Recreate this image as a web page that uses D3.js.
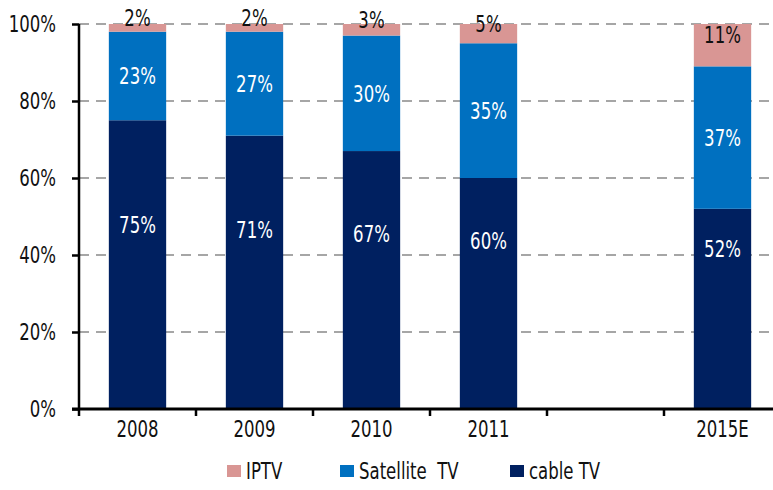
<!DOCTYPE html>
<html>
<head>
<meta charset="utf-8">
<script src="https://cdn.jsdelivr.net/npm/d3@7"></script>
<style>
  html, body { margin: 0; padding: 0; background: #fff; }
  svg text { font-family: "Liberation Sans Narrow", "DejaVu Sans Condensed", "DejaVu Sans", sans-serif; }
</style>
</head>
<body>
<svg id="chart" width="773" height="490"></svg>
<script>
// Category slots along the x axis; the empty slot leaves a gap before the forecast year
const categories = ["2008", "2009", "2010", "2011", "", "2015E"];
const cableTV     = [75, 71, 67, 60, null, 52];
const satelliteTV = [23, 27, 30, 35, null, 37];
const iptv        = [2, 2, 3, 5, null, 11];
const yTicks = [0, 20, 40, 60, 80, 100];

const seriesNames = ["cable TV", "Satellite TV", "IPTV"];
const legendLabels = ["IPTV", "Satellite\u00a0 TV", "cable TV"];
const colors = { "cable TV": "#002060", "Satellite TV": "#0070c0", "IPTV": "#d99694" };

const FONT_SIZE = 23;
const SQUEEZE = 0.8;   // horizontal squeeze for a tall, narrow lettering

const svg = d3.select("#chart");
const margin = { left: 79, top: 24, bottom: 81 };
const plotRight = 781;
const height = 490;

const x = d3.scaleBand().domain(d3.range(categories.length))
  .range([margin.left, plotRight]).paddingInner(0.51).paddingOuter(0.255);
const xSlots = d3.scaleBand().domain(d3.range(categories.length))
  .range([margin.left, plotRight]);
const y = d3.scaleLinear().domain([0, 100]).range([height - margin.bottom, margin.top]);

// Narrow text placed at (px, py), vertically centred on py
function label(parent, px, py, str, anchor, fill) {
  return parent.append("text")
    .attr("transform", `translate(${px},${py}) scale(${SQUEEZE},1)`)
    .attr("dy", "0.36em")
    .attr("text-anchor", anchor)
    .attr("font-size", FONT_SIZE)
    .attr("fill", fill)
    .text(str);
}

// Stacked table built from the series arrays
const rows = categories.map((c, i) => ({
  i, cat: c,
  "cable TV": cableTV[i], "Satellite TV": satelliteTV[i], "IPTV": iptv[i]
})).filter(r => r["cable TV"] !== null);
const stacked = d3.stack().keys(seriesNames)(rows);

// Dashed horizontal gridlines
svg.append("g").selectAll("line").data(yTicks.filter(t => t > 0)).join("line")
  .attr("x1", margin.left).attr("x2", 773)
  .attr("y1", d => y(d)).attr("y2", d => y(d))
  .attr("stroke", "#a6a6a6").attr("stroke-width", 2)
  .attr("stroke-dasharray", "10,7");

// Bars
svg.append("g").selectAll("g").data(stacked).join("g")
  .attr("fill", s => colors[s.key])
  .selectAll("rect").data(s => s).join("rect")
  .attr("x", d => x(d.data.i))
  .attr("width", x.bandwidth())
  .attr("y", d => y(d[1]))
  .attr("height", d => y(d[0]) - y(d[1]));

// Value labels
const labelG = svg.append("g");
stacked.forEach(s => {
  s.forEach(d => {
    const v = d.data[s.key];
    let ly;
    if (s.key === "cable TV") ly = y(v * 0.27 + 27.5);
    else if (s.key === "IPTV") ly = y((d[0] + d[1]) / 2) - 10;
    else ly = y((d[0] + d[1]) / 2);
    label(labelG, x(d.data.i) + x.bandwidth() / 2, ly, v + "%", "middle",
      s.key === "IPTV" ? "#111" : "#fff");
  });
});

// Y axis
const yAxis = svg.append("g").attr("transform", `translate(${margin.left},0)`)
  .call(d3.axisLeft(y).tickValues(yTicks).tickSize(7).tickFormat(""));
yAxis.select(".domain").attr("stroke", "#000").attr("stroke-width", 2.5)
  .attr("d", `M0,${y(100)}V${y(0)}`);
yAxis.selectAll(".tick line").attr("stroke", "#000").attr("stroke-width", 2.5);
const yLab = svg.append("g");
yTicks.forEach(t => label(yLab, 56, y(t), t + "%", "end", "#111"));

// X axis: baseline, slot boundary ticks and category labels
const xg = svg.append("g");
xg.append("line").attr("x1", margin.left - 7).attr("x2", 773)
  .attr("y1", y(0)).attr("y2", y(0)).attr("stroke", "#000").attr("stroke-width", 3);
xg.selectAll(".bt").data(d3.range(categories.length + 1)).join("line")
  .attr("x1", i => i < categories.length ? xSlots(i) : plotRight)
  .attr("x2", i => i < categories.length ? xSlots(i) : plotRight)
  .attr("y1", y(0)).attr("y2", y(0) + 7)
  .attr("stroke", "#000").attr("stroke-width", 2.5);
categories.forEach((c, i) => {
  if (c) label(xg, xSlots(i) + xSlots.bandwidth() / 2, y(0) + 20, c, "middle", "#111");
});

// Legend
const legendX = [227, 340, 510];
const legendKeys = ["IPTV", "Satellite TV", "cable TV"];
const lg = svg.append("g");
legendLabels.forEach((t, i) => {
  lg.append("rect").attr("x", legendX[i]).attr("y", 465).attr("width", 14).attr("height", 12)
    .attr("fill", colors[legendKeys[i]]);
  label(lg, legendX[i] + 19, 471, t, "start", "#111");
});
</script>
</body>
</html>
